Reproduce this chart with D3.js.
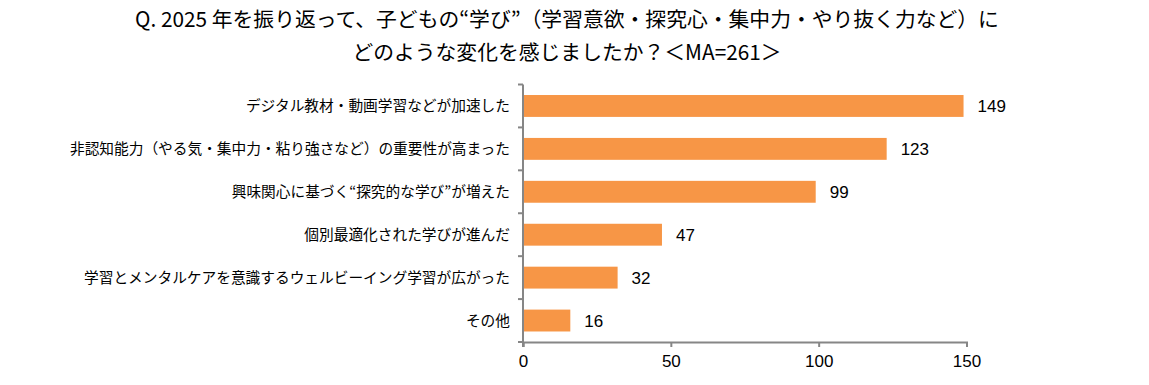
<!DOCTYPE html>
<html><head><meta charset="utf-8">
<script src="https://cdn.jsdelivr.net/npm/d3@7"></script>
<style>body{margin:0;background:#fff}svg{display:block}</style>
</head><body>
<svg id="c" width="1149" height="385"></svg>
<script>
const titleLines = ["Q. 2025 年を振り返って、子どもの“学び”（学習意欲・探究心・集中力・やり抜く力など）に", "どのような変化を感じましたか？＜MA=261＞"];
const categories = ["デジタル教材・動画学習などが加速した","非認知能力（やる気・集中力・粘り強さなど）の重要性が高まった","興味関心に基づく“探究的な学び”が増えた","個別最適化された学びが進んだ","学習とメンタルケアを意識するウェルビーイング学習が広がった","その他"];
const values = [149,123,99,47,32,16];
const xTicks = [0,50,100,150];

const svg = d3.select("#c");
const font = "'Noto Sans CJK JP','Noto Sans',sans-serif";
const pL = 523, pR = 966.5, pT = 84.5, pB = 342;
const x = d3.scaleLinear().domain([0,150]).range([pL,pR]);
const y = d3.scaleBand().domain(categories).range([pT,pB]).paddingInner(0.49).paddingOuter(0.245);

svg.selectAll("text.title").data(titleLines).join("text")
  .attr("x",567).attr("y",(d,i)=>27+i*33).attr("text-anchor","middle")
  .attr("font-family",font).attr("font-size",20.8).attr("fill","#000").text(d=>d);

svg.selectAll("rect.bar").data(values).join("rect")
  .attr("x",x(0)).attr("y",(d,i)=>y(categories[i]))
  .attr("width",d=>x(d)-x(0)).attr("height",y.bandwidth())
  .attr("fill","#F79646");

svg.selectAll("text.val").data(values).join("text")
  .attr("x",d=>x(d)+14).attr("y",(d,i)=>y(categories[i])+y.bandwidth()/2)
  .attr("dy","0.36em").attr("font-family","'Liberation Sans',Arial,sans-serif")
  .attr("font-size",17).attr("fill","#000").text(d=>d);

svg.selectAll("text.cat").data(categories).join("text")
  .attr("x",510).attr("y",d=>y(d)+y.bandwidth()/2).attr("dy","0.36em")
  .attr("text-anchor","end").attr("font-family",font).attr("font-size",14.7)
  .attr("fill","#000").text(d=>d);

const ax = svg.append("g").attr("transform",`translate(0,${pB})`)
  .call(d3.axisBottom(x).tickValues(xTicks).tickSize(5).tickPadding(8));
ax.select(".domain").attr("stroke","#868686").attr("stroke-width",2);
ax.selectAll(".tick line").attr("stroke","#868686").attr("stroke-width",2);
ax.selectAll(".tick text").attr("font-family","'Liberation Sans',Arial,sans-serif").attr("font-size",17).attr("fill","#000");

const step = y.step();
const bounds = d3.range(categories.length+1).map(i=>pT+i*step);
svg.append("line").attr("x1",pL).attr("x2",pL).attr("y1",pT).attr("y2",pB+5)
  .attr("stroke","#868686").attr("stroke-width",2);
svg.selectAll("line.yt").data(bounds).join("line")
  .attr("x1",pL-5).attr("x2",pL).attr("y1",d=>d).attr("y2",d=>d)
  .attr("stroke","#868686").attr("stroke-width",2);
</script>
</body></html>
